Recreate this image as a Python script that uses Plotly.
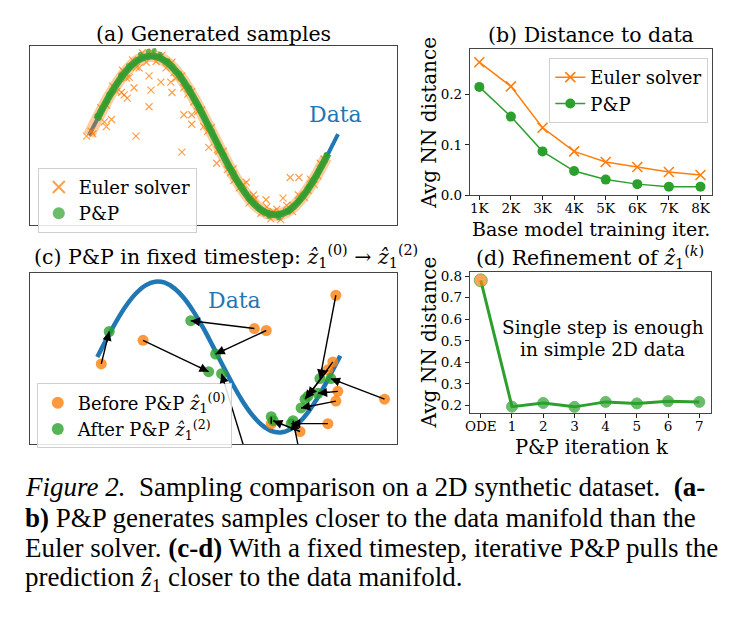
import plotly.graph_objects as go
import math

W, H = 739, 618
FONT = "DejaVu Serif"
BLUE, ORANGE, GREEN = "#1f77b4", "#ff7f0e", "#2ca02c"

# ---------------- Panel (a): generated samples ----------------
data_x = [0.0, 0.25, 0.5, 0.75, 1.0, 1.25, 1.5, 1.75, 2.0, 2.25, 2.5, 2.75, 3.0,
          3.25, 3.5, 3.75, 4.0, 4.25, 4.5, 4.75, 5.0, 5.25, 5.5, 5.75, 6.0, 6.25, 6.3]
data_y = [0.0, 0.247, 0.479, 0.682, 0.841, 0.949, 0.997, 0.984, 0.909, 0.778, 0.598, 0.382, 0.141,
          -0.108, -0.351, -0.572, -0.757, -0.895, -0.978, -0.999, -0.959, -0.859, -0.706, -0.508,
          -0.279, -0.033, 0.017]

euler_band_x = [0.0, 0.25, 0.5, 0.75, 1.0, 1.25, 1.5, 1.75, 2.0, 2.25, 2.5, 2.75, 3.0,
                3.25, 3.5, 3.75, 4.0, 4.25, 4.5, 4.75, 5.0, 5.25, 5.5, 5.75, 6.0]
euler_band_y = [0.0, 0.247, 0.479, 0.682, 0.841, 0.949, 0.997, 0.984, 0.909, 0.778, 0.598, 0.382, 0.141,
                -0.108, -0.351, -0.572, -0.757, -0.895, -0.978, -0.999, -0.959, -0.859, -0.706, -0.508,
                -0.279]

pp_band_x = [0.2, 0.5, 0.75, 1.0, 1.25, 1.5, 1.75, 2.0, 2.25, 2.5, 2.75, 3.0,
             3.25, 3.5, 3.75, 4.0, 4.25, 4.5, 4.75, 5.0, 5.25, 5.5, 5.75, 6.05]
pp_band_y = [0.199, 0.479, 0.682, 0.841, 0.949, 0.997, 0.984, 0.909, 0.778, 0.598, 0.382, 0.141,
             -0.108, -0.351, -0.572, -0.757, -0.895, -0.978, -0.999, -0.959, -0.859, -0.706, -0.508,
             -0.231]

euler_x = [-0.06, 0.06, 0.57, 0.44, 1.19, 1.14, 1.52, 1.57, 1.82, 2.07, 2.10, 1.52, 0.89, 0.82, 0.97,
           2.35, 2.40, 2.60, 2.60, 3.03, 3.23, 3.58, 3.98, 4.48, 4.91, 5.09, 5.31, 1.27, 1.02, 2.15,
           2.40, 2.65, 2.90, 3.28, 3.66, 4.16, 4.66, 5.16, 5.54, 5.79, 0.39,
           0.10, 0.30, 0.45, 0.60, 0.70, 0.85, 0.95, 1.10, 1.20, 1.35, 1.45, 1.60, 1.70, 1.85, 1.95,
           2.10, 2.20, 2.35, 2.50, 2.60, 2.75, 2.85, 3.00, 3.10, 3.25, 3.40, 3.50, 3.65, 3.80, 3.90,
           4.05, 4.20, 4.35, 4.50, 4.60, 4.75, 4.85, 5.00, 5.15, 5.30, 5.45, 5.60, 5.70, 5.85, 5.95]
euler_y = [-0.01, 0.05, 0.20, 0.11, -0.01, 0.60, 0.36, 0.57, 0.67, 0.67, 0.54, 0.75, 0.51, 0.54, 0.47,
           -0.21, 0.26, 0.26, 0.14, -0.15, -0.35, -0.47, -0.59, -0.81, -0.79, -0.53, -0.53, 0.85, 0.73, 0.79,
           0.60, 0.42, 0.11, -0.20, -0.57, -0.75, -0.96, -0.88, -0.69, -0.51, 0.17,
           0.02, 0.35, 0.38, 0.62, 0.55, 0.82, 0.72, 0.95, 0.86, 1.04, 0.92, 1.05, 0.93, 1.01, 0.85,
           0.92, 0.72, 0.75, 0.52, 0.55, 0.30, 0.32, 0.05, 0.10, -0.18, -0.20, -0.43, -0.42, -0.66, -0.62,
           -0.85, -0.80, -0.98, -0.90, -1.05, -0.93, -1.06, -0.88, -0.96, -0.75, -0.78, -0.55, -0.62, -0.35, -0.30]

pp_x = [0.2, 0.5, 0.8, 1.0, 1.3, 1.5, 1.65, 1.8, 2.0, 2.3, 2.55, 2.8, 3.05, 3.3, 3.55, 3.8, 4.05,
        4.3, 4.55, 4.8, 5.05, 5.3, 5.55, 5.8, 6.0]
pp_y = [0.25, 0.52, 0.76, 0.88, 1.02, 1.06, 1.07, 1.02, 0.94, 0.78, 0.60, 0.36, 0.10, -0.14, -0.40,
        -0.60, -0.80, -0.93, -1.02, -1.04, -0.96, -0.82, -0.64, -0.44, -0.24]

# ---------------- Panel (b): distance to data ----------------
iters = [1, 2, 3, 4, 5, 6, 7, 8]
iter_labels = ["1K", "2K", "3K", "4K", "5K", "6K", "7K", "8K"]
euler_dist = [0.264, 0.216, 0.134, 0.087, 0.066, 0.056, 0.046, 0.040]
pp_dist = [0.215, 0.156, 0.087, 0.048, 0.031, 0.022, 0.017, 0.017]

# ---------------- Panel (c): P&P in fixed timestep ----------------
before_x = [0.103, 1.186, 4.072, 4.381, 4.098, 6.186, 6.108, 5.979, 7.448, 6.237, 6.186, 5.979, 5.258, 5.464, 4.510]
before_y = [-0.091, 0.221, 0.377, 0.351, -1.688, 0.818, -0.065, -0.169, -0.558, -0.455, -0.584, -0.883, -0.987, -1.818, -0.883]
after_x = [0.309, 2.887, 2.423, 3.067, 3.222, 5.773, 5.464, 5.387, 6.057, 5.722, 5.284, 5.026, 4.562, 5.077, 4.510]
after_y = [0.338, -0.195, 0.481, 0.039, -0.221, -0.286, -0.519, -0.558, -0.286, -0.481, -0.675, -0.883, -0.844, -0.844, -0.790]

# ---------------- Panel (d): refinement ----------------
k_vals = [0, 1, 2, 3, 4, 5, 6, 7]
k_labels = ["ODE", "1", "2", "3", "4", "5", "6", "7"]
refine_dist = [0.78, 0.195, 0.212, 0.194, 0.217, 0.210, 0.220, 0.217]

# ---------------- layout helpers ----------------
def dom_x(a, b):
    return [a / W, b / W]

def dom_y(top, bottom):
    return [1 - bottom / H, 1 - top / H]

A_BOX = (25, 395, 43, 225)
B_BOX = (468, 712, 46, 195)
C_BOX = (25, 395, 274, 449)
D_BOX = (468, 711, 273, 417)
A_XR, A_YR = [-1.495, 7.80], [-1.123, 1.123]
C_XR, C_YR = [-1.75, 7.78], [-1.156, 1.117]

fig = go.Figure()

# panel a
fig.add_trace(go.Scatter(x=data_x, y=data_y, mode="lines", line=dict(color=BLUE, width=4),
                         showlegend=False, xaxis="x", yaxis="y"))
fig.add_trace(go.Scatter(x=euler_band_x, y=euler_band_y, mode="lines", line=dict(color="rgba(255,127,14,0.4)", width=12, shape="spline"),
                         showlegend=False, xaxis="x", yaxis="y"))
fig.add_trace(go.Scatter(x=euler_x, y=euler_y, mode="markers", name="Euler solver",
                         marker=dict(symbol="x-thin", size=7, line=dict(width=1.2, color="rgba(255,127,14,0.75)"), color=ORANGE),
                         legend="legend", xaxis="x", yaxis="y"))
fig.add_trace(go.Scatter(x=pp_band_x, y=pp_band_y, mode="lines", line=dict(color="rgba(44,160,44,0.9)", width=7, shape="spline"),
                         showlegend=False, xaxis="x", yaxis="y"))
fig.add_trace(go.Scatter(x=pp_x, y=pp_y, mode="markers", name="P&P",
                         marker=dict(symbol="circle", size=5, color="rgba(44,160,44,0.7)"),
                         legend="legend", xaxis="x", yaxis="y"))

# panel b
fig.add_trace(go.Scatter(x=iters, y=euler_dist, mode="lines+markers", name="Euler solver",
                         line=dict(color=ORANGE, width=1.5),
                         marker=dict(symbol="x-thin", size=10, line=dict(width=1.6, color=ORANGE), color=ORANGE),
                         legend="legend2", xaxis="x2", yaxis="y2"))
fig.add_trace(go.Scatter(x=iters, y=pp_dist, mode="lines+markers", name="P&P",
                         line=dict(color=GREEN, width=1.5),
                         marker=dict(symbol="circle", size=10, color=GREEN),
                         legend="legend2", xaxis="x2", yaxis="y2"))

# panel c
fig.add_trace(go.Scatter(x=data_x, y=data_y, mode="lines", line=dict(color=BLUE, width=4.5, shape="spline"),
                         showlegend=False, xaxis="x3", yaxis="y3"))
fig.add_trace(go.Scatter(x=before_x, y=before_y, mode="markers", name="Before P&P <i>ẑ</i><sub>1</sub><sup>(0)</sup>",
                         marker=dict(size=11, color="rgba(255,127,14,0.8)"),
                         legend="legend3", xaxis="x3", yaxis="y3"))
fig.add_trace(go.Scatter(x=after_x, y=after_y, mode="markers", name="After P&P <i>ẑ</i><sub>1</sub><sup>(2)</sup>",
                         marker=dict(size=11, color="rgba(44,160,44,0.8)"),
                         legend="legend3", xaxis="x3", yaxis="y3"))
seg_x, seg_y = [], []
for bx, by, gx, gy in zip(before_x, before_y, after_x, after_y):
    seg_x += [bx, gx, None]
    seg_y += [by, gy, None]
fig.add_trace(go.Scatter(x=seg_x, y=seg_y, mode="lines", line=dict(color="black", width=1.4),
                         showlegend=False, xaxis="x3", yaxis="y3"))

# panel d
fig.add_trace(go.Scatter(x=k_vals, y=refine_dist, mode="lines+markers", showlegend=False,
                         line=dict(color=GREEN, width=3),
                         marker=dict(size=[13] + [11] * 7, color=[ORANGE] + [GREEN] * 7),
                         xaxis="x4", yaxis="y4"))

ann = []
# arrowheads panel c
sx = (C_BOX[1] - C_BOX[0]) / (C_XR[1] - C_XR[0])
sy = (C_BOX[3] - C_BOX[2]) / (C_YR[1] - C_YR[0])
for bx, by, gx, gy in zip(before_x, before_y, after_x, after_y):
    dxp = (bx - gx) * sx
    dyp = -(by - gy) * sy
    L = math.hypot(dxp, dyp)
    if L < 12:
        continue
    ann.append(dict(x=gx, y=gy, xref="x3", yref="y3", ax=dxp / L * 12, ay=dyp / L * 12,
                    axref="pixel", ayref="pixel", text="", showarrow=True,
                    arrowhead=2, arrowsize=1.3, arrowwidth=1.4, arrowcolor="black", standoff=0))

def txt(x, y, s, size, color="black", xanchor="center", angle=0, family=FONT):
    ann.append(dict(x=x / W, y=1 - y / H, xref="paper", yref="paper", text=s, showarrow=False,
                    xanchor=xanchor, yanchor="middle", textangle=angle,
                    font=dict(family=family, size=size, color=color)))

txt(210, 31, "(a) Generated samples", 20.5)
txt(590, 32, "(b) Distance to data", 20.5)
txt(27, 257, "(c) P&P in fixed timestep: <i>ẑ</i><sub>1</sub><sup>(0)</sup> → <i>ẑ</i><sub>1</sub><sup>(2)</sup>", 20.5, xanchor="left")
txt(589, 259, "(d) Refinement of <i>ẑ</i><sub>1</sub><sup>(<i>k</i>)</sup>", 20.5)
txt(333, 113, "Data", 22, color=BLUE)
txt(231, 302, "Data", 22, color=BLUE)
txt(427, 121, "Avg NN distance", 20, angle=-90)
txt(590, 229, "Base model training iter.", 19)
txt(427, 345, "Avg NN distance", 20, angle=-90)
txt(590, 452, "P&P iteration k", 19.5)
txt(602, 330, "Single step is enough", 18.5)
txt(602, 352, "in simple 2D data", 18.5)

CAP = "Liberation Serif"
txt(18, 493, "<i>Figure 2.</i>  Sampling comparison on a 2D synthetic dataset.  <b>(a-</b>", 27, xanchor="left", family=CAP)
txt(18, 524, "<b>b)</b> P&P generates samples closer to the data manifold than the", 27, xanchor="left", family=CAP)
txt(18, 555, "Euler solver. <b>(c-d)</b> With a fixed timestep, iterative P&P pulls the", 27, xanchor="left", family=CAP)
txt(18, 586, "prediction <i>ẑ</i><sub>1</sub> closer to the data manifold.", 27, xanchor="left", family=CAP)

box_axis = dict(showgrid=False, zeroline=False, showline=True, mirror=True, linecolor="#444", linewidth=1)
plain = dict(box_axis, showticklabels=False, ticks="")
tickd = dict(box_axis, ticks="outside", ticklen=4, tickwidth=1, tickcolor="#222",
             tickfont=dict(family=FONT, size=13.5, color="black"))

legend_common = dict(xanchor="left", yanchor="top", bordercolor="#d0d0d0", borderwidth=1,
                     bgcolor="rgba(255,255,255,0.85)", font=dict(family=FONT, size=18, color="black"))

fig.update_layout(
    width=W, height=H, margin=dict(l=0, r=0, t=0, b=0),
    paper_bgcolor="white", plot_bgcolor="white",
    xaxis=dict(plain, domain=dom_x(A_BOX[0], A_BOX[1]), range=A_XR, anchor="y"),
    yaxis=dict(plain, domain=dom_y(A_BOX[2], A_BOX[3]), range=A_YR, anchor="x"),
    xaxis2=dict(tickd, domain=dom_x(B_BOX[0], B_BOX[1]), range=[0.7, 8.37], tickvals=iters, ticktext=iter_labels,
                anchor="y2", ticklabelstandoff=-3),
    yaxis2=dict(tickd, domain=dom_y(B_BOX[2], B_BOX[3]), range=[0, 0.29], tickvals=[0, 0.1, 0.2], ticktext=["0.0", "0.1", "0.2"], anchor="x2"),
    xaxis3=dict(plain, domain=dom_x(C_BOX[0], C_BOX[1]), range=C_XR, anchor="y3"),
    yaxis3=dict(plain, domain=dom_y(C_BOX[2], C_BOX[3]), range=C_YR, anchor="x3"),
    xaxis4=dict(tickd, domain=dom_x(D_BOX[0], D_BOX[1]), range=[-0.35, 7.38], tickvals=k_vals, ticktext=k_labels,
                anchor="y4", ticklabelstandoff=-3),
    yaxis4=dict(tickd, domain=dom_y(D_BOX[2], D_BOX[3]), range=[0.166, 0.82],
                tickvals=[0.2, 0.3, 0.4, 0.5, 0.6, 0.7, 0.8], ticktext=["0.2", "0.3", "0.4", "0.5", "0.6", "0.7", "0.8"], anchor="x4"),
    legend=dict(legend_common, x=33 / W, y=1 - 167 / H, itemsizing="constant"),
    legend2=dict(legend_common, x=548 / W, y=1 - 55 / H),
    legend3=dict(legend_common, x=32 / W, y=1 - 387 / H, itemsizing="constant"),
    annotations=ann,
    showlegend=True,
)

fig.write_html("out.html")
